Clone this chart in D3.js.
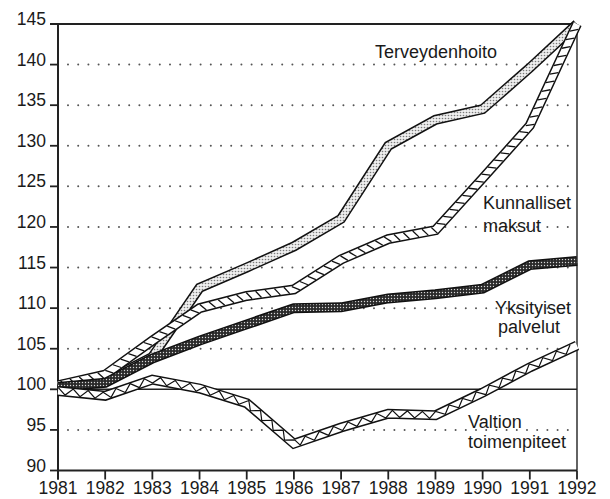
<!DOCTYPE html>
<html>
<head>
<meta charset="utf-8">
<script src="https://cdn.jsdelivr.net/npm/d3@7"></script>
<style>
  body { margin: 0; background: #fff; }
  text { font-family: "Liberation Sans", Arial, Helvetica, sans-serif; fill: #1a1a1a; }
</style>
</head>
<body>
<svg width="610" height="499"></svg>
<script>
// data (index, 1981 = 100)
const years = [1981, 1982, 1983, 1984, 1985, 1986, 1987, 1988, 1989, 1990, 1991, 1992];
const terveydenhoito = [100.5, 101, 104, 112.5, 115, 117.6, 121, 130, 133.2, 134.5, 139.6, 145];
const kunnalliset   = [100.5, 101.8, 106, 110, 111.5, 112.3, 116, 118.5, 119.6, 126, 132.5, 145];
const yksityiset    = [100.3, 100.8, 103.8, 106, 108, 110, 110.1, 111.2, 111.7, 112.4, 115.3, 115.8];
const valtion       = [99.8, 99.2, 101.2, 100.1, 98.3, 93.3, 95.3, 97, 96.8, 99.6, 102.7, 105.4];
const yTicks = [90, 95, 100, 105, 110, 115, 120, 125, 130, 135, 140, 145];
const gridTicks = [95, 105, 110, 115, 120, 125, 130, 135, 140];

const svg = d3.select('svg');

const x = d3.scaleLinear().domain([1981, 1992]).range([58, 577]);
const y = d3.scaleLinear().domain([90, 145]).range([470.5, 24]);

// patterns
const defs = svg.append('defs');
const dots = defs.append('pattern').attr('id', 'dots')
  .attr('width', 3).attr('height', 3).attr('patternUnits', 'userSpaceOnUse');
dots.append('rect').attr('width', 3).attr('height', 3).attr('fill', '#eeeeee');
dots.append('circle').attr('cx', 1.5).attr('cy', 1.5).attr('r', 0.8).attr('fill', '#7a7a7a');

const dark = defs.append('pattern').attr('id', 'dark')
  .attr('width', 3).attr('height', 3).attr('patternUnits', 'userSpaceOnUse');
dark.append('rect').attr('width', 3).attr('height', 3).attr('fill', '#2a2a2a');
dark.append('circle').attr('cx', 1.5).attr('cy', 1.5).attr('r', 0.7).attr('fill', '#d8d8d8');

// gridlines (dotted)
svg.append('g').selectAll('line').data(gridTicks).enter().append('line')
  .attr('x1', x(1981) + 10).attr('x2', x(1992))
  .attr('y1', d => y(d)).attr('y2', d => y(d))
  .attr('stroke', '#555').attr('stroke-width', 2)
  .attr('stroke-linecap', 'round').attr('stroke-dasharray', '0,10.2');

// 100 baseline
svg.append('line')
  .attr('x1', x(1981)).attr('x2', x(1992))
  .attr('y1', y(100)).attr('y2', y(100))
  .attr('stroke', '#222').attr('stroke-width', 1.6);

// frame: top and right
svg.append('line').attr('x1', 50).attr('x2', x(1992))
  .attr('y1', y(145)).attr('y2', y(145))
  .attr('stroke', '#222').attr('stroke-width', 1.8);
svg.append('line').attr('x1', x(1992)).attr('x2', x(1992))
  .attr('y1', y(145)).attr('y2', y(90))
  .attr('stroke', '#222').attr('stroke-width', 1.4);

// y axis
const yAxis = svg.append('g');
yAxis.append('line').attr('x1', x(1981)).attr('x2', x(1981))
  .attr('y1', y(145)).attr('y2', y(90) + 9)
  .attr('stroke', '#222').attr('stroke-width', 2);
yAxis.selectAll('.tk').data(yTicks).enter().append('line')
  .attr('x1', 50).attr('x2', x(1981))
  .attr('y1', d => y(d)).attr('y2', d => y(d))
  .attr('stroke', '#222').attr('stroke-width', 1.8);
yAxis.selectAll('text').data(yTicks).enter().append('text')
  .attr('x', 46).attr('y', d => y(d) + 1)
  .attr('text-anchor', 'end').attr('font-size', 17.5)
  .text(d => d);

// x axis
const xAxis = svg.append('g');
xAxis.append('line').attr('x1', x(1981)).attr('x2', x(1992))
  .attr('y1', y(90)).attr('y2', y(90))
  .attr('stroke', '#222').attr('stroke-width', 2);
xAxis.selectAll('.tk').data(years).enter().append('line')
  .attr('x1', d => x(d)).attr('x2', d => x(d))
  .attr('y1', y(90)).attr('y2', y(90) + 9)
  .attr('stroke', '#222').attr('stroke-width', 1.8);
xAxis.selectAll('text').data(years).enter().append('text')
  .attr('x', d => x(d)).attr('y', 494)
  .attr('text-anchor', 'middle').attr('font-size', 17.5)
  .text(d => d);

const line = d3.line().x((d, i) => x(years[i])).y(d => y(d));

function band(values, fill) {
  const g = svg.append('g');
  g.append('path').attr('d', line(values))
    .attr('fill', 'none').attr('stroke', '#111').attr('stroke-width', 10)
    .attr('stroke-linejoin', 'miter').attr('stroke-miterlimit', 10);
  const p = g.append('path').attr('d', line(values))
    .attr('fill', 'none').attr('stroke', fill).attr('stroke-width', 7)
    .attr('stroke-linejoin', 'miter').attr('stroke-miterlimit', 10);
  return { g, node: p.node() };
}

function frame(node, s) {
  const L = node.getTotalLength();
  const a = node.getPointAtLength(Math.max(0, s - 0.6));
  const b = node.getPointAtLength(Math.min(L, s + 0.6));
  const p = node.getPointAtLength(s);
  let tx = b.x - a.x, ty = b.y - a.y;
  const n = Math.hypot(tx, ty) || 1;
  tx /= n; ty /= n;
  return { p, tx, ty, nx: -ty, ny: tx };
}

// draw order: bottom to top
const terv = band(terveydenhoito, 'url(#dots)');

const kunn = band(kunnalliset, '#fff');
{
  const L = kunn.node.getTotalLength();
  const rungs = d3.range(6, L - 3, 9.5).map(s => frame(kunn.node, s));
  kunn.g.selectAll('line').data(rungs).enter().append('line')
    .attr('x1', f => f.p.x + f.nx * 3.5 + f.tx * 2.5)
    .attr('y1', f => f.p.y + f.ny * 3.5 + f.ty * 2.5)
    .attr('x2', f => f.p.x - f.nx * 3.5 - f.tx * 2.5)
    .attr('y2', f => f.p.y - f.ny * 3.5 - f.ty * 2.5)
    .attr('stroke', '#111').attr('stroke-width', 1.3);
}

const yks = band(yksityiset, 'url(#dark)');

const valt = band(valtion, '#fff');
{
  const L = valt.node.getTotalLength();
  const pts = d3.range(0, L, 7.5).map((s, i) => {
    const f = frame(valt.node, s);
    const k = i % 2 ? 3.4 : -3.4;
    return [f.p.x + f.nx * k, f.p.y + f.ny * k];
  });
  valt.g.append('path').attr('d', d3.line()(pts))
    .attr('fill', 'none').attr('stroke', '#111').attr('stroke-width', 1.2);
}

// series labels
const labels = svg.append('g').attr('font-size', 18);
labels.append('text').attr('x', 375).attr('y', 58).text('Terveydenhoito');
labels.append('text').attr('x', 483).attr('y', 209).text('Kunnalliset');
labels.append('text').attr('x', 483).attr('y', 232).text('maksut');
labels.append('text').attr('x', 533).attr('y', 314).attr('text-anchor', 'middle').text('Yksityiset');
labels.append('text').attr('x', 529).attr('y', 333).attr('text-anchor', 'middle').text('palvelut');
labels.append('text').attr('x', 468).attr('y', 428).text('Valtion');
labels.append('text').attr('x', 468).attr('y', 448).text('toimenpiteet');
</script>
</body>
</html>
